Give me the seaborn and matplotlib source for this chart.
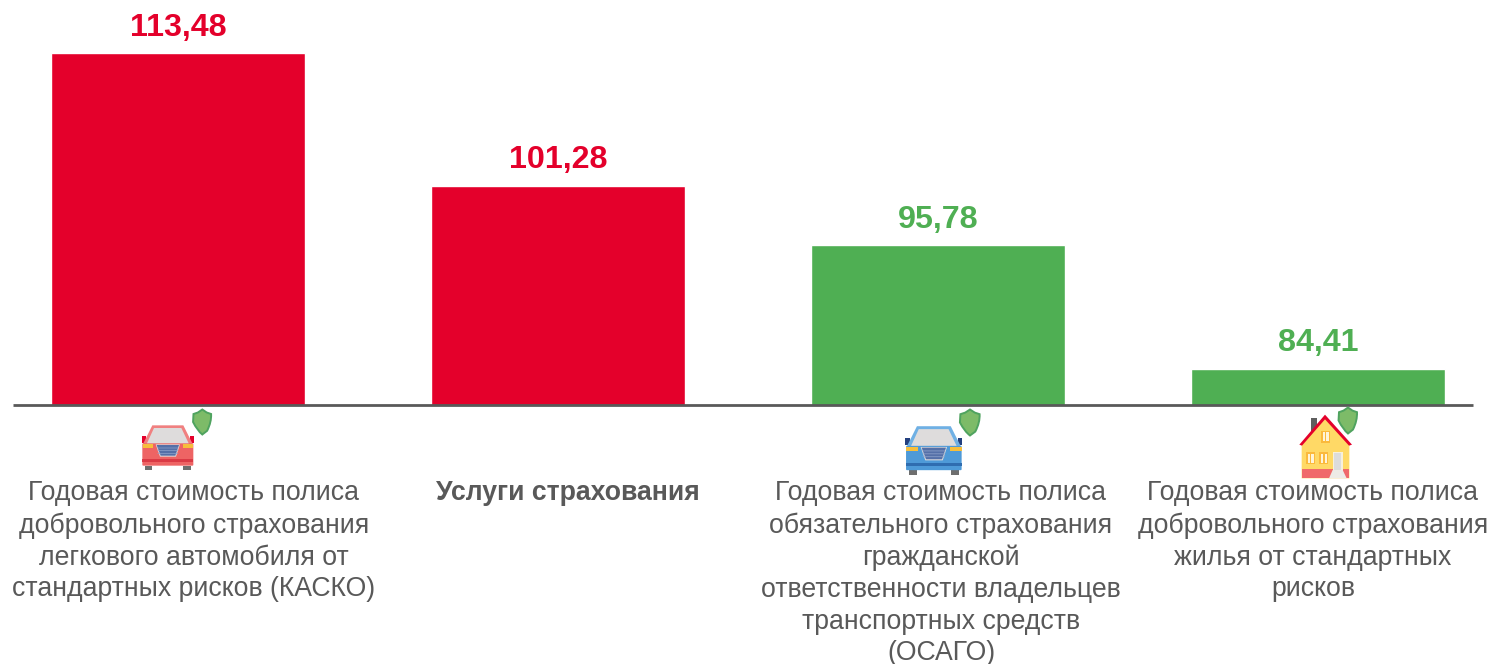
import matplotlib
matplotlib.use("Agg")
import matplotlib.pyplot as plt
from matplotlib.patches import Polygon, Rectangle, FancyBboxPatch, PathPatch
from matplotlib.path import Path
import pandas as pd
import seaborn as sns

categories = [
    "Годовая стоимость полиса\nдобровольного страхования\nлегкового автомобиля от\nстандартных рисков (КАСКО)",
    "Услуги страхования",
    "Годовая стоимость полиса\nобязательного страхования\nгражданской\nответственности владельцев\nтранспортных средств\n(ОСАГО)",
    "Годовая стоимость полиса\nдобровольного страхования\nжилья от стандартных\nрисков",
]
values = [113.48, 101.28, 95.78, 84.41]
bar_colors = ["#E4002B", "#E4002B", "#4FAF53", "#4FAF53"]
label_shift_px = [16, 10, 3, -5]

W, H = 1491, 664
GREY = "#595959"

sns.set_style("white")
plt.rcParams["font.family"] = ["Liberation Sans", "DejaVu Sans"]

df = pd.DataFrame({"cat": categories, "val": values})

fig = plt.figure(figsize=(W / 100, H / 100), dpi=100)
ax = fig.add_axes([13 / W, (H - 405) / H, 1460 / W, 405 / H])
sns.barplot(data=df, x="cat", y="val", hue="cat", palette=bar_colors,
            width=0.6695, legend=False, saturation=1, ax=ax)
ax.set_xlim(-0.434, 3.408)
ax.set_ylim(81.05, 118.40)
ax.set_xlabel("")
ax.set_ylabel("")
ax.set_yticks([])
ax.set_xticks([])
sns.despine(ax=ax, left=True)
ax.spines["bottom"].set_color(GREY)
ax.spines["bottom"].set_linewidth(2.0)
ax.spines["bottom"].set_capstyle("butt")

px = 72 / 100  # points per pixel
for i, (cat, v, c) in enumerate(zip(categories, values, bar_colors)):
    ax.annotate(f"{v:.2f}".replace(".", ","), xy=(i, v), xytext=(0.5 * px, 17.5 * px),
                textcoords="offset points", ha="center", va="baseline",
                color=c, fontsize=23.2, fontweight="bold")
    ax.annotate(cat, xy=(i, 0), xycoords=("data", "axes fraction"),
                xytext=(label_shift_px[i] * px, -75.5 * px), textcoords="offset points",
                ha="center", va="top", multialignment="center", color=GREY,
                fontsize=19.2, linespacing=1.285, annotation_clip=False,
                fontweight="bold" if i == 1 else "normal")

# icons are drawn on an overlay in pixel coordinates
ov = fig.add_axes([0, 0, 1, 1])
ov.set_xlim(0, W)
ov.set_ylim(H, 0)
ov.axis("off")
ov.patch.set_alpha(0)


def shield(cx, top, hw, h):
    verts = [(cx, top), (cx + hw * 0.5, top + h * 0.12), (cx + hw, top + h * 0.18),
             (cx + hw * 1.05, top + h * 0.5), (cx + hw * 0.55, top + h * 0.85), (cx, top + h),
             (cx - hw * 0.55, top + h * 0.85), (cx - hw * 1.05, top + h * 0.5), (cx - hw, top + h * 0.18),
             (cx - hw * 0.5, top + h * 0.12), (cx, top)]
    codes = [Path.MOVETO, Path.LINETO, Path.LINETO, Path.CURVE3, Path.CURVE3, Path.LINETO,
             Path.CURVE3, Path.CURVE3, Path.LINETO, Path.LINETO, Path.CLOSEPOLY]
    ov.add_patch(PathPatch(Path(verts, codes), fc="#7DBB68", ec="#4FA35F", lw=1.4))


def car(ox, oy, s, body, dark, stripe, frame):
    f = lambda x, y: (ox + s * x / 3, oy + s * y / 3)
    poly = lambda pts, c: ov.add_patch(Polygon([f(*p) for p in pts], closed=True, fc=c, ec="none"))
    poly([(75, 197), (97, 197), (97, 210), (75, 210)], "#6E6E6E")
    poly([(190, 197), (213, 197), (213, 210), (190, 210)], "#6E6E6E")
    poly([(65, 108), (77, 108), (77, 128), (65, 128)], dark)
    poly([(210, 108), (222, 108), (222, 128), (210, 128)], dark)
    poly([(97, 76), (190, 76), (218, 132), (69, 132)], frame)
    poly([(102, 84), (184, 84), (207, 132), (80, 132)], "#DEDCDC")
    x0, y0 = f(67, 130)
    x1, y1 = f(220, 197)
    ov.add_patch(FancyBboxPatch((x0 + 1, y0 + 1), x1 - x0 - 2, y1 - y0 - 2,
                                boxstyle="round,pad=1", fc=body, ec="none"))
    poly([(68, 132), (100, 132), (100, 143), (68, 143)], "#F7BE3B")
    poly([(188, 132), (220, 132), (220, 143), (188, 143)], "#F7BE3B")
    poly([(107, 133), (180, 133), (168, 170), (120, 170)], "#DEDCDC")
    poly([(110, 135), (177, 135), (166, 167), (122, 167)], "#5570A8")
    for y in (143, 151, 159):
        poly([(112, y), (175, y), (174, y + 2), (113, y + 2)], "#8FA3CC")
    poly([(67, 178), (220, 178), (220, 185), (67, 185)], stripe)


car(120, 400, 1.0, "#EE6464", "#E4002B", "#DB3A45", "#F08080")
car(881.7, 398.6, 1.09, "#4E9AD8", "#23407F", "#2F6DB0", "#6FB0E4")
shield(202.3, 409.5, 8.8, 25)
shield(970, 409.5, 9.6, 26)
shield(1348, 407.5, 9, 26)

# house, coordinates taken from 3x crop
hf = lambda x, y: (1280 + x / 3, 400 + y / 3)


def hp(pts, c):
    ov.add_patch(Polygon([hf(*p) for p in pts], closed=True, fc=c, ec="none"))


def hr(x0, y0, x1, y1, c):
    a = hf(x0, y0)
    b = hf(x1, y1)
    ov.add_patch(Rectangle(a, b[0] - a[0], b[1] - a[1], fc=c, ec="none"))


hr(92, 55, 110, 100, "#5E5E5E")
hp([(135, 48), (65, 132), (65, 235), (208, 235), (208, 132)], "#FFD966")
hr(65, 208, 208, 235, "#F06A6A")
hp([(135, 44), (58, 134), (66, 137), (135, 58), (207, 137), (216, 134)], "#E4002B")
for x0, y0, x1, y1 in [(124, 92, 150, 128), (79, 157, 105, 192), (118, 157, 145, 192)]:
    hr(x0, y0, x1, y1, "#FBB93C")
    hr(x0 + 4, y0 + 4, x1 - 4, y1 - 4, "#FFF4D8")
    hr((x0 + x1) / 2 - 2, y0, (x0 + x1) / 2 + 2, y1, "#FBB93C")
hr(158, 155, 188, 212, "#F7F0DC")
hr(162, 160, 184, 210, "#DCDCDC")
hp([(158, 210), (188, 210), (200, 235), (147, 235)], "#EDEBE6")

fig.savefig("out.png", dpi=100)
